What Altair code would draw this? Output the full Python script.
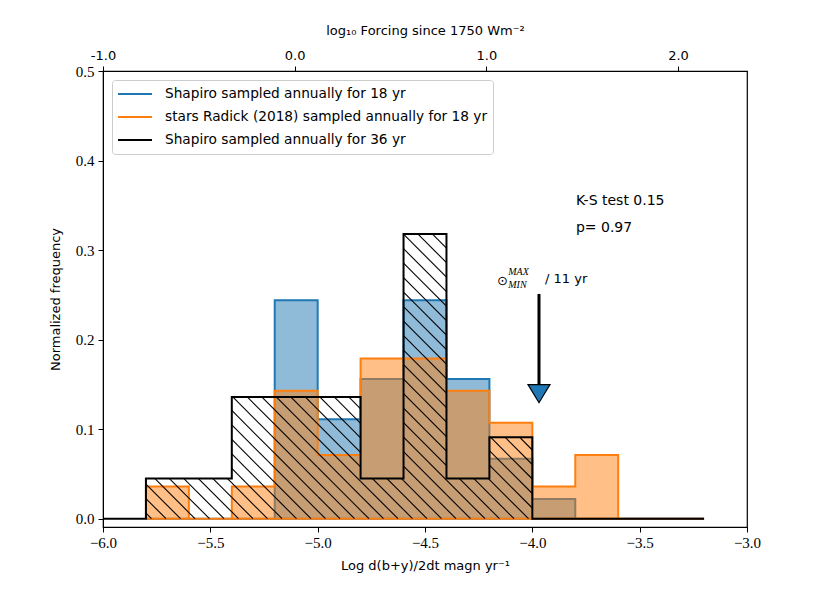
import altair as alt
import pandas as pd
import numpy as np

# ---------------- data ----------------
SERIES = ["Shapiro sampled annually for 18 yr",
          "stars Radick (2018) sampled annually for 18 yr",
          "Shapiro sampled annually for 36 yr"]
COLORS = ["#1f77b4", "#ff7f0e", "#000000"]

black_edges = [-6.0, -5.8, -5.6, -5.4, -5.2, -5.0, -4.8, -4.6, -4.4, -4.2, -4.0, -3.8, -3.6, -3.4, -3.2]
black_vals = [0.0, 0.045, 0.045, 0.136, 0.136, 0.136, 0.045, 0.318, 0.045, 0.091, 0.0, 0.0, 0.0, 0.0]

col_edges = [-5.8, -5.6, -5.4, -5.2, -5.0, -4.8, -4.6, -4.4, -4.2, -4.0, -3.8, -3.6, -3.4, -3.2]
blue_vals = [0.0, 0.0, 0.0, 0.244, 0.111, 0.156, 0.244, 0.156, 0.067, 0.022, 0.0, 0.0, 0.0]
orange_vals = [0.036, 0.0, 0.036, 0.143, 0.071, 0.179, 0.179, 0.143, 0.107, 0.036, 0.071, 0.0, 0.0]

x_ticks = [-6.0, -5.5, -5.0, -4.5, -4.0, -3.5, -3.0]
y_ticks = [0.0, 0.1, 0.2, 0.3, 0.4, 0.5]
top_ticks = [-1.0, 0.0, 1.0, 2.0]

ks_text = ["K-S test 0.15", "p= 0.97"]
ks_x = [-3.797, -3.797]
ks_y = [0.355, 0.325]

arrow_x = -3.969
arrow_top = 0.251
arrow_base = 0.1497
arrow_head_y = 0.1396

X_DOM = [-6.0, -3.0]
Y_DOM = [-0.0093, 0.5]
TOP_DOM = [-1.0, 2.36]
W, H = 644, 456

SANS = "DejaVu Sans"
SERIF = "Liberation Serif"

# ---------------- helpers ----------------
def step_area(edges, vals, name):
    xs = list(edges[:-1]) + [edges[-1]]
    ys = list(vals) + [vals[-1]]
    return pd.DataFrame({"x": xs, "y": ys, "series": name})


def outline(edges, vals, name, closed):
    pts = [(edges[0], 0.0)]
    for i, v in enumerate(vals):
        pts.append((edges[i], v))
        pts.append((edges[i + 1], v))
    pts.append((edges[-1], 0.0))
    if closed:
        pts.append((edges[0], 0.0))
    return pd.DataFrame({"x": [p[0] for p in pts], "y": [p[1] for p in pts],
                         "o": list(range(len(pts))), "series": name})


def hatch(edges, vals, spacing=14.5):
    sx = W / (X_DOM[1] - X_DOM[0])
    sy = H / (Y_DOM[1] - Y_DOM[0])
    segs = []
    cmax = (edges[-1] - X_DOM[0]) * sx + max(vals) * sy
    c = 5.0
    while c < cmax:
        for i, v in enumerate(vals):
            if v <= 0:
                continue
            A = (edges[i] - X_DOM[0]) * sx
            B = (edges[i + 1] - X_DOM[0]) * sx
            V = v * sy
            x1 = max(A, c - V)
            x2 = min(B, c)
            if x2 > x1 + 0.3:
                segs.append({"x": x1 / sx + X_DOM[0], "y": (c - x1) / sy,
                             "x2": x2 / sx + X_DOM[0], "y2": (c - x2) / sy})
        c += spacing
    return pd.DataFrame(segs)


xs = alt.Scale(domain=X_DOM, nice=False, zero=False)
ys = alt.Scale(domain=Y_DOM, nice=False, zero=False)
cscale = alt.Scale(domain=SERIES, range=COLORS)

x_axis = alt.Axis(values=x_ticks, format=".1f", grid=False, labelFlush=False,
                  labelFont=SERIF, labelFontSize=15, labelColor="black", labelPadding=3,
                  tickSize=5, tickColor="black", domainColor="black",
                  title="Log d(b+y)/2dt magn yr⁻¹", titleFont=SANS, titleFontSize=13,
                  titleFontWeight="normal", titleColor="black", titlePadding=9)
y_axis = alt.Axis(values=y_ticks, format=".1f", grid=False,
                  labelFont=SERIF, labelFontSize=15, labelColor="black", labelPadding=4,
                  tickSize=5, tickColor="black", domainColor="black",
                  title="Normalized frequency", titleFont=SANS, titleFontSize=13,
                  titleFontWeight="normal", titleColor="black", titlePadding=13)

X = alt.X("x:Q", scale=xs, axis=x_axis)
Y = alt.Y("y:Q", scale=ys, axis=y_axis)

layers = []
# filled step histograms (18 yr samples)
for edges, vals, name, col in [(col_edges, blue_vals, SERIES[0], COLORS[0]),
                               (col_edges, orange_vals, SERIES[1], COLORS[1])]:
    layers.append(alt.Chart(step_area(edges, vals, name)).mark_area(
        interpolate="step-after", opacity=0.5, color=col).encode(x=X, y=Y))
    layers.append(alt.Chart(outline(edges, vals, name, True)).mark_line(
        strokeWidth=2, strokeJoin="miter").encode(
        x=X, y=Y, order="o:Q",
        color=alt.Color("series:N", scale=cscale, title=None)))

# hatched step histogram (36 yr sample)
layers.append(alt.Chart(hatch(black_edges, black_vals)).mark_rule(
    color="black", strokeWidth=1.1).encode(x=X, y=Y, x2="x2:Q", y2="y2:Q"))
layers.append(alt.Chart(outline(black_edges, black_vals, SERIES[2], False)).mark_line(
    strokeWidth=2, strokeJoin="miter").encode(
    x=X, y=Y, order="o:Q",
    color=alt.Color("series:N", scale=cscale, title=None)))

# text annotations
ks_df = pd.DataFrame({"x": ks_x, "y": ks_y, "t": ks_text})
layers.append(alt.Chart(ks_df).mark_text(align="left", baseline="middle", font=SANS,
                                         fontSize=14, color="black").encode(x=X, y=Y, text="t:N"))

ann = pd.DataFrame({"x": [-4.165, -3.941], "y": [0.266, 0.268], "t": ["⊙", "/ 11 yr"]})
layers.append(alt.Chart(ann).mark_text(align="left", baseline="middle", font=SANS,
                                       fontSize=13, color="black").encode(x=X, y=Y, text="t:N"))
sub = pd.DataFrame({"x": [-4.112, -4.112], "y": [0.2755, 0.2615], "t": ["MAX", "MIN"]})
layers.append(alt.Chart(sub).mark_text(align="left", baseline="middle", font=SERIF,
                                       fontStyle="italic", fontSize=10, color="black").encode(x=X, y=Y, text="t:N"))

# arrow
arr = pd.DataFrame({"x": [arrow_x], "y": [arrow_top], "y2": [arrow_base], "yh": [arrow_head_y]})
layers.append(alt.Chart(arr).mark_rule(color="black", strokeWidth=3).encode(x=X, y=Y, y2="y2:Q"))
layers.append(alt.Chart(arr).mark_point(
    shape="M -1 -0.82 L 1 -0.82 L 0 0.82 Z", size=484, filled=True, fill="#1f77b4",
    stroke="black", strokeWidth=1.2, opacity=1).encode(x=X, y=alt.Y("yh:Q", scale=ys, axis=y_axis)))

main = alt.layer(*layers)

top_df = pd.DataFrame({"x": TOP_DOM})
top = alt.Chart(top_df).mark_point(opacity=0).encode(
    x=alt.X("x:Q", scale=alt.Scale(domain=TOP_DOM, nice=False, zero=False),
            axis=alt.Axis(orient="top", values=top_ticks, grid=False, labelFlush=False,
                          labelExpr="replace(format(datum.value, '.1f'), '\u2212', '-')",
                          labelFont=SANS, labelFontSize=13, labelColor="black", labelPadding=4,
                          tickSize=5, tickColor="black", domainColor="black",
                          title="log₁₀ Forcing since 1750 Wm⁻²", titleFont=SANS, titleFontSize=13,
                          titleFontWeight="normal", titleColor="black", titlePadding=12)))

chart = alt.layer(main, top).resolve_scale(x="independent").properties(
    width=W, height=H,
    padding={"left": 95, "top": 63, "right": 75, "bottom": 50},
    autosize=alt.AutoSizeParams(type="none"),
).configure_view(stroke="black", strokeWidth=1.2).configure_axisBottom(
    labelFont=SERIF, labelFontSize=15
).configure_axisLeft(
    labelFont=SERIF, labelFontSize=15
).configure_legend(
    orient="none", legendX=9, legendY=9,
    symbolType="stroke", symbolSize=1156, symbolStrokeWidth=2,
    labelFont=SANS, labelFontSize=13.7, labelColor="black", labelOffset=12, labelLimit=600,
    clipHeight=18, rowPadding=5, padding=5, strokeColor="#cccccc", cornerRadius=3,
    fillColor="white",
)

chart.save("out.html", embed_options={"renderer": "svg", "actions": False})
